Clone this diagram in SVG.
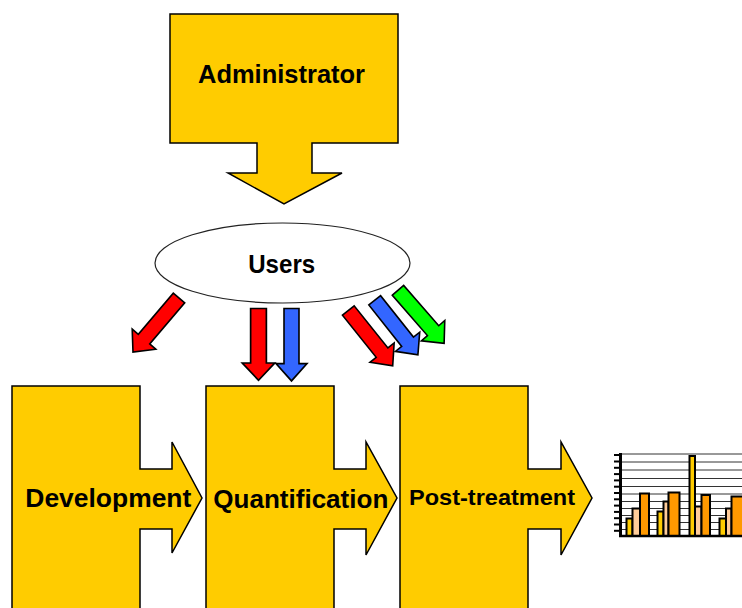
<svg xmlns="http://www.w3.org/2000/svg" width="742" height="608" viewBox="0 0 742 608">
  <style>
    .block { fill: #FFCC00; stroke: #000; stroke-width: 1.5; stroke-linejoin: miter; }
    .lbl { font-family: "Liberation Sans", Arial, sans-serif; font-weight: bold; fill: #000; text-anchor: middle; }
    .arr { stroke: #000; stroke-width: 1.6; stroke-linejoin: miter; }
    .red { fill: #FF0000; }
    .blue { fill: #3366FF; }
    .green { fill: #00FF00; }
    .grid { stroke: #333; stroke-width: 1; }
    .bar { stroke: #000; stroke-width: 2; }
  </style>
  <defs>
    <path id="dArrow" d="M-7.5,0 L7.5,0 L7.5,54 L15.5,54 L0,71 L-15.5,54 L-7.5,54 Z"/>
  </defs>
  <rect width="742" height="608" fill="#fff"/>

  <g id="admin">
    <polygon class="block" points="170,14 398,14 398,143 312,143 312,173 342,173 284,204 228,173 257,173 257,143 170,143"/>
    <text class="lbl" x="281.5" y="83" font-size="25" textLength="167" lengthAdjust="spacingAndGlyphs">Administrator</text>
  </g>

  <g id="users">
    <ellipse cx="282.5" cy="263" rx="127.5" ry="40" fill="#fff" stroke="#222" stroke-width="1.2"/>
    <text class="lbl" x="281.7" y="273" font-size="25" textLength="67" lengthAdjust="spacingAndGlyphs">Users</text>
  </g>

  <g id="development">
    <polygon class="block" points="12,386 140,386 140,469 172,469 172,442 202,498 172,553 172,529 140,529 140,612 12,612"/>
    <text class="lbl" x="108.3" y="507" font-size="25" textLength="166" lengthAdjust="spacingAndGlyphs">Development</text>
  </g>

  <g id="quantification">
    <polygon class="block" points="206,386 334,386 334,469 366,469 366,442 397,498 366,555 366,529 334,529 334,612 206,612"/>
    <text class="lbl" x="300.8" y="508" font-size="25" textLength="175" lengthAdjust="spacingAndGlyphs">Quantification</text>
  </g>

  <g id="post-treatment">
    <polygon class="block" points="400,386 528,386 528,469 561,469 561,442 592,498 561,555 561,529 528,529 528,612 400,612"/>
    <text class="lbl" x="492" y="505" font-size="22" textLength="166" lengthAdjust="spacingAndGlyphs">Post-treatment</text>
  </g>

  <g id="connectors">
    <use href="#dArrow" class="arr red" transform="translate(179,298) rotate(40.4)"/>
    <use href="#dArrow" class="arr red" transform="translate(258.5,308.5) scale(1.05,1.01)"/>
    <use href="#dArrow" class="arr blue" transform="translate(291.5,308.5) scale(1,1.02)"/>
    <use href="#dArrow" class="arr red" transform="translate(348.3,310.5) rotate(-38.7)"/>
    <use href="#dArrow" class="arr blue" transform="translate(374.7,300.3) rotate(-38.4) scale(1,0.98)"/>
    <use href="#dArrow" class="arr green" transform="translate(398,290.3) rotate(-41) scale(1,0.99)"/>
  </g>

  <g id="chart">
    <g class="grid">
      <line x1="621" y1="454" x2="742" y2="454"/>
      <line x1="621" y1="462" x2="742" y2="462"/>
      <line x1="621" y1="470" x2="742" y2="470"/>
      <line x1="621" y1="478.5" x2="742" y2="478.5"/>
      <line x1="621" y1="486.5" x2="742" y2="486.5"/>
      <line x1="621" y1="494" x2="742" y2="494"/>
      <line x1="621" y1="501.5" x2="742" y2="501.5"/>
      <line x1="621" y1="508.5" x2="742" y2="508.5"/>
      <line x1="621" y1="515.5" x2="742" y2="515.5"/>
      <line x1="621" y1="522.5" x2="742" y2="522.5"/>
      <line x1="621" y1="529.5" x2="742" y2="529.5"/>
    </g>
    <g stroke="#000" stroke-width="2">
      <line x1="614" y1="455" x2="621" y2="455"/>
      <line x1="614" y1="461.5" x2="621" y2="461.5"/>
      <line x1="614" y1="467.8" x2="621" y2="467.8"/>
      <line x1="614" y1="474.1" x2="621" y2="474.1"/>
      <line x1="614" y1="480.4" x2="621" y2="480.4"/>
      <line x1="614" y1="486.7" x2="621" y2="486.7"/>
      <line x1="614" y1="493" x2="621" y2="493"/>
      <line x1="614" y1="499.3" x2="621" y2="499.3"/>
      <line x1="614" y1="505.6" x2="621" y2="505.6"/>
      <line x1="614" y1="511.9" x2="621" y2="511.9"/>
      <line x1="614" y1="518.2" x2="621" y2="518.2"/>
      <line x1="614" y1="524.5" x2="621" y2="524.5"/>
      <line x1="614" y1="530.8" x2="621" y2="530.8"/>
    </g>
    <g class="bar">
      <rect x="626.5" y="518.5" width="6" height="17.5" fill="#FFCC00"/>
      <rect x="632.5" y="508.5" width="7.5" height="27.5" fill="#FFCC99"/>
      <rect x="640" y="493.5" width="9" height="42.5" fill="#FF9900"/>
      <rect x="657.5" y="511.5" width="6" height="24.5" fill="#FFCC00"/>
      <rect x="663.5" y="501.5" width="5" height="34.5" fill="#FFCC99"/>
      <rect x="668.5" y="492.5" width="11" height="43.5" fill="#FF9900"/>
      <rect x="689.5" y="456" width="5.5" height="80" fill="#FFCC00"/>
      <rect x="695" y="506.5" width="6.5" height="29.5" fill="#FFCC99"/>
      <rect x="701.5" y="495" width="8.5" height="41" fill="#FF9900"/>
      <rect x="719.5" y="518.5" width="6.5" height="17.5" fill="#FFCC00"/>
      <rect x="726" y="508.5" width="5.5" height="27.5" fill="#FFCC99"/>
      <rect x="731.5" y="496.5" width="12" height="39.5" fill="#FF9900"/>
    </g>
    <line x1="620.5" y1="453" x2="620.5" y2="537" stroke="#000" stroke-width="3"/>
    <line x1="619" y1="536" x2="742" y2="536" stroke="#000" stroke-width="2.5"/>
  </g>
</svg>
